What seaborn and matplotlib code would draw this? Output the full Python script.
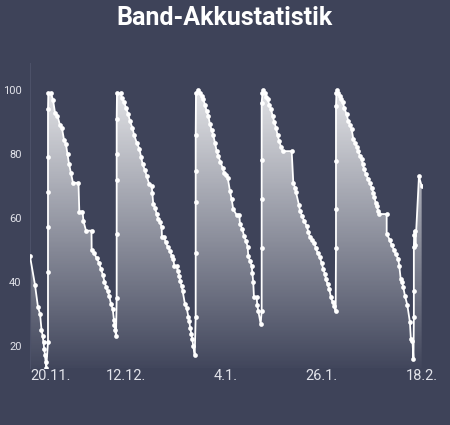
import numpy as np
import pandas as pd
import matplotlib
matplotlib.use("Agg")
import matplotlib.pyplot as plt
import seaborn as sns
from matplotlib.colors import LinearSegmentedColormap

# ---- data (days since 20.11., battery %) ----
days = [
    0.00, 1.15, 1.84, 2.30, 2.64, 2.92, 3.10, 3.26, 3.44, 3.58, 3.72,
    4.13, 4.13, 4.13, 4.13, 4.13, 4.13, 4.20, 4.82,
    5.28, 5.74, 6.31, 6.89, 7.35, 7.81, 8.26, 8.61, 8.95, 9.41, 9.87, 11.13,
    11.32, 12.05, 12.28, 12.86, 14.12, 14.16, 14.69, 15.27, 15.84, 16.30,
    16.76, 17.10, 17.45, 17.84, 18.20, 18.60, 18.99, 19.28, 19.40, 19.58, 19.74,
    19.90, 19.90, 19.90, 19.90, 19.90, 19.97, 20.89,
    21.05, 21.58, 22.04, 22.57, 22.96, 23.49, 23.94, 24.50, 25.09, 25.48,
    25.87, 26.40, 26.79, 27.39, 27.94, 28.08, 28.31, 28.70, 29.09, 29.45,
    29.84, 30.23, 30.30, 30.83, 31.15, 31.61, 32.14, 32.53, 32.90, 33.13,
    33.68, 33.91, 34.28, 34.44, 34.82, 35.06, 35.58, 35.97, 36.34, 36.57,
    36.80, 37.03, 37.26, 37.49, 37.81,
    38.04, 38.04, 38.04, 38.04, 38.04, 38.11, 38.64,
    39.03, 39.42, 39.78, 40.17, 40.56, 40.93, 41.32, 41.71, 42.08, 42.47,
    42.86, 43.23, 43.73, 44.24, 44.54, 44.99, 45.39, 45.91, 46.30, 46.67,
    47.45, 48.05, 48.21, 48.74, 49.13, 49.59, 49.98, 50.11, 50.51, 50.89,
    51.03, 51.26, 51.42, 52.04, 52.18, 52.41, 52.96,
    53.19, 53.19, 53.19, 53.19, 53.19, 53.37, 53.56,
    53.95, 54.25, 54.57, 54.94, 55.33, 55.72, 56.08, 56.47, 56.86, 57.23,
    57.62, 58.01, 60.08, 60.45, 60.84, 61.07, 61.75, 61.98, 62.51, 62.97,
    63.52, 63.89, 64.28, 64.81, 65.27, 65.59, 66.05, 66.58, 66.97, 67.33,
    67.72, 67.95, 68.34, 68.71, 69.10, 69.49, 69.86, 70.18,
    70.25, 70.25, 70.25, 70.25, 70.36, 70.55,
    70.78, 71.17, 71.40, 71.79, 72.15, 72.70, 73.07, 73.46, 73.85, 74.22,
    74.61, 75.00, 75.37, 75.76, 76.15, 76.38, 76.74, 77.13, 77.66, 78.05,
    78.44, 78.81, 79.04, 79.36, 79.59, 79.96, 80.19, 81.89, 81.89, 82.64,
    83.03, 83.56, 83.95, 84.55, 84.78, 85.10, 85.40, 85.70, 86.09, 86.62,
    87.23, 87.44, 87.81, 88.04,
    88.13, 88.13, 88.13, 88.20, 88.31, 88.50, 89.30, 89.92,
]
battery = [
    48, 39, 32, 30, 25, 23, 21, 19, 17, 15, 13,
    21, 43, 57, 68, 79, 94, 99, 99,
    97, 93, 92, 89, 88, 84.5, 83, 80, 77, 74, 71, 71,
    62, 62, 59, 56, 56, 50, 49, 47.5, 46, 44,
    42, 40, 38.5, 37, 35.5, 33, 31.5, 28, 26.5, 25, 23,
    35, 55, 72, 80, 91, 99, 99,
    97.6, 96.3, 94.5, 92.4, 90.3, 88.3, 85.8, 83.6, 81.7, 79.2,
    76.8, 74.9, 73.1, 70.5, 70, 67.9, 64.3, 63.2, 61.2, 59.6,
    58.8, 57, 54, 54, 52.3, 51, 49.7, 48.1, 47.1, 45,
    45, 43.4, 41.9, 40.3, 38.7, 37, 33, 31.8, 29.1, 27.6,
    25.4, 23.7, 22.1, 19.8, 17.1,
    29, 49, 65, 74.7, 85.8, 99, 100,
    99.2, 98.2, 97.1, 95.5, 93.4, 92, 89.3, 87.5, 85.8, 83.5,
    81, 79.4, 77.5, 75.7, 74.2, 73.5, 72.6, 68.4, 65.8, 62.7,
    60.9, 60.9, 58.2, 56.5, 54.4, 52.8, 50.9, 48.1, 46.6, 45,
    42.9, 39.8, 35.1, 35.1, 32.8, 30.9, 26.8,
    30.9, 50.7, 65.8, 78.1, 96.1, 99.2, 100,
    99.2, 98, 97.1, 95.5, 94, 91.9, 90, 88.3, 85.8, 84,
    82.3, 80.9, 80.9, 71, 69.5, 68, 64.1, 62.2, 60.5, 58.9,
    57.5, 55.7, 53.9, 53, 52.1, 50.7, 49, 47.6, 45.8, 44,
    42.4, 40.8, 39.2, 37.7, 35.1, 33.6, 32.5, 30.7,
    50.7, 62.7, 77.8, 95, 99.2, 100,
    99.2, 98.1, 97.3, 96.3, 94.5, 92.4, 90.3, 89.2, 87.7, 84.8,
    83.6, 82.3, 80.9, 79.4, 78.4, 76.8, 75.2, 73.7, 72.1, 70.9,
    69.5, 67.9, 66.5, 64.8, 63.6, 62.2, 61.2, 61.2, 55, 53,
    51.5, 50, 48.7, 47.1, 45, 41, 40, 38.3, 35.6, 32.8,
    27.3, 22.1, 21.6, 15.8,
    29, 37, 51, 54.6, 56, 51.5, 73, 70,
]
tick_days = [0, 22, 45, 67, 90]
tick_labels = ["20.11.", "12.12.", "4.1.", "26.1.", "18.2."]
y_ticks = [20, 40, 60, 80, 100]
title = "Band-Akkustatistik"

BG = "#3e4359"
TXT = "#e2e3ea"

sns.set_theme(style="dark")
plt.rcParams["font.family"] = ["Roboto", "DejaVu Sans"]

fig = plt.figure(figsize=(4.5, 4.25), dpi=100, facecolor=BG)
ax = fig.add_axes([30 / 450, 1 - 368 / 425, 392 / 450, 305 / 425])
ax.set_facecolor(BG)

df = pd.DataFrame({"day": days, "battery": battery})
ymin, ymax = 13, 108.5
xmin, xmax = 0, 90

# gradient area fill, clipped to the area under the line
poly = ax.fill_between(df["day"], df["battery"], ymin, color="none", lw=0)
cmap = LinearSegmentedColormap.from_list(
    "fade", [(1, 1, 1, 0.02), (1, 1, 1, 0.93)]
)
grad = np.linspace(0, 1, 256).reshape(-1, 1)
img = ax.imshow(grad, cmap=cmap, origin="lower", aspect="auto",
                extent=[xmin, xmax, ymin, ymax], interpolation="bilinear", zorder=1)
img.set_clip_path(poly.get_paths()[0], transform=ax.transData)

sns.lineplot(data=df, x="day", y="battery", estimator=None, sort=False,
             color="white", lw=1.3, marker="o", markersize=3.4,
             markeredgewidth=0, ax=ax, zorder=3)

ax.set_xlim(xmin, xmax)
ax.set_ylim(ymin, ymax)
ax.set_xlabel("")
ax.set_ylabel("")
ax.grid(False)
for s in ["top", "right", "bottom"]:
    ax.spines[s].set_visible(False)
ax.spines["left"].set_color("#4c5168")
ax.spines["left"].set_linewidth(0.8)

ax.set_yticks(y_ticks)
ax.set_yticklabels([str(v) for v in y_ticks])
ax.tick_params(axis="y", length=0, pad=6, labelsize=8, labelcolor=TXT)
ax.set_xticks(tick_days)
ax.set_xticklabels(tick_labels)
ax.tick_params(axis="x", length=0, pad=1, labelsize=10.5, labelcolor=TXT)
ax.get_xticklabels()[0].set_horizontalalignment("left")

fig.text(0.5, 1 - 18 / 425, title, ha="center", va="center",
         fontsize=18, fontweight="bold", color="white")

fig.savefig("out.png", dpi=100, facecolor=BG)
